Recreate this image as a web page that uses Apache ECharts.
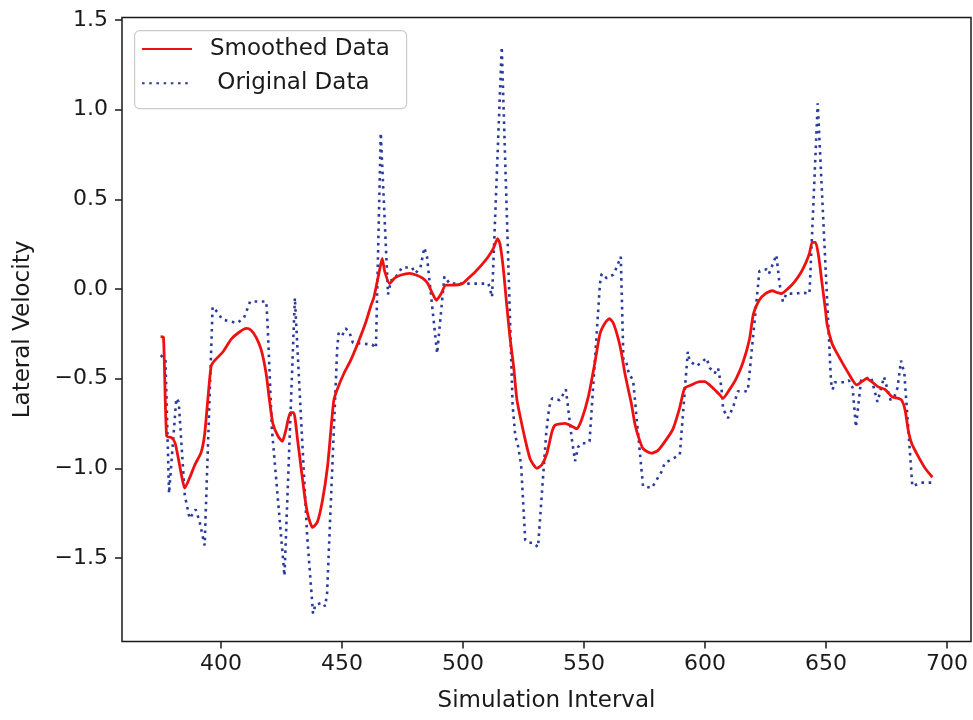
<!DOCTYPE html>
<html>
<head>
<meta charset="utf-8">
<script src="https://cdn.jsdelivr.net/npm/echarts@6/dist/echarts.min.js"></script>
<style>
html,body{margin:0;padding:0;background:#fff;}
#chart{width:973px;height:720px;}
</style>
</head>
<body>
<div id="chart"></div>
<script>
// ---- data ----
var origX = [375,377,378.5,379.3,381.5,382.5,385,387,389.5,391,393.2,396.5,398.5,400.5,403.3,406.7,409.5,412,418.7,419.3,421,426.2,430.5,433,435.6,438,439,442,443,443.8,448,448.6,450,451.5,453,454.5,462.5,464,466,469,470.3,471.4,474.8,478.9,480.3,482.4,484,485.1,489.3,492.3,493,494.5,510.5,512,516,520.5,521.6,522.8,524,525.7,527,529,531,534.4,535.6,536.8,540,542.5,543.4,545,546.3,547.6,549,551,552.3,556.6,557.3,559.4,562.1,563.5,565.2,566.3,567.5,568.5,570.3,574.4,578,580,582,583.4,586.2,589.6,592.9,593.6,596.5,598.6,600.6,602,604,605.4,606.8,607.5,609.5,611.6,613.6,617.7,622.5,623.8,625.5,626.4,627.5,629.5,630.8,632.2,633.7,637.8,640,643.2,646.6,652.1,652.8,653.5,658.3,659.5,661,662.4,664.5,668.6,671.3,674,676.7,678.3,679.6,681,682.4,685.7,689.2,694];
var origY = [-0.37,-0.39,-1.14,-1.14,-0.61,-0.63,-1.15,-1.28,-1.23,-1.29,-1.43,-0.10,-0.13,-0.17,-0.18,-0.19,-0.16,-0.07,-0.07,-0.22,-0.78,-1.60,-0.05,-0.71,-1.38,-1.81,-1.76,-1.75,-1.77,-1.70,-0.33,-0.245,-0.26,-0.22,-0.24,-0.30,-0.31,-0.33,0.87,-0.03,0.05,0.05,0.12,0.12,0.087,0.12,0.23,0.18,-0.36,0.07,0.08,0.03,0.03,-0.045,1.35,-0.65,-0.82,-0.88,-0.98,-1.40,-1.415,-1.415,-1.44,-0.80,-0.66,-0.61,-0.62,-0.56,-0.66,-0.84,-0.96,-0.88,-0.86,-0.86,-0.85,0.03,0.085,0.06,0.08,0.12,0.18,-0.40,-0.41,-0.47,-0.51,-1.10,-1.11,-1.065,-1.02,-0.97,-0.95,-0.925,-0.35,-0.40,-0.43,-0.41,-0.385,-0.44,-0.47,-0.44,-0.55,-0.67,-0.72,-0.66,-0.57,-0.57,0.10,0.105,0.11,0.085,0.12,0.19,0.03,-0.07,-0.026,-0.026,-0.02,-0.026,1.035,-0.52,-0.56,-0.52,-0.52,-0.51,-0.55,-0.77,-0.51,-0.49,-0.63,-0.49,-0.62,-0.60,-0.55,-0.40,-0.47,-1.10,-1.08,-1.08];

var smoothX = [375,376.2,377.5,379.6,381,382.4,383.8,385,387.1,389.2,391.8,393.2,394.5,395.9,397.3,400.8,404.2,407.6,410.4,412.4,414.5,416.6,418.6,420,421.4,423.5,425.3,426.9,428.6,430,431.6,433,434.4,435.7,437.8,439.8,441.9,444,445.3,446.6,448,450.8,453.5,456.9,459.7,462,463.2,465.5,466.6,467.6,469.6,471.7,474.4,477.9,480.6,483.3,485.4,487.4,489,490.8,492.9,495.6,499.7,502.2,505,507.7,510.4,512.5,514.3,515.3,516.6,518,519.4,520.9,521.6,522.3,523.6,525.7,527.8,530.5,532.6,534.6,536.7,538,542.2,545.6,547,549,551.8,554.5,556.6,558.7,560.5,562.1,564.2,565.5,566.9,568.3,569.6,571,572.4,574.4,577.9,580.6,584,586.8,589.6,591.6,594.4,597.8,599.9,603.3,606.1,607.4,610.2,612.9,615.7,618.4,620,622.4,625,627.8,629.9,631.6,634.3,637,639.8,641.8,643.2,644.3,645.7,647,648.4,649.8,650.5,652.4,653.8,656.5,659.3,662.7,664.8,666.8,668.9,671.6,674.4,677.2,679.9,681.3,682.7,684,685.4,688.2,691,694];
var smoothY = [-0.266,-0.27,-0.82,-0.83,-0.86,-0.95,-1.05,-1.11,-1.05,-0.98,-0.91,-0.81,-0.62,-0.43,-0.40,-0.35,-0.28,-0.24,-0.22,-0.23,-0.27,-0.34,-0.47,-0.62,-0.75,-0.82,-0.85,-0.78,-0.69,-0.69,-0.84,-0.99,-1.14,-1.25,-1.33,-1.30,-1.18,-0.99,-0.80,-0.62,-0.56,-0.47,-0.40,-0.29,-0.19,-0.09,-0.045,0.105,0.17,0.10,0.03,0.06,0.078,0.087,0.078,0.06,0.03,-0.026,-0.063,-0.03,0.022,0.022,0.03,0.06,0.095,0.134,0.18,0.225,0.28,0.25,0.12,-0.08,-0.27,-0.43,-0.53,-0.62,-0.71,-0.84,-0.95,-1.0,-0.98,-0.92,-0.80,-0.76,-0.75,-0.77,-0.78,-0.73,-0.60,-0.41,-0.25,-0.19,-0.165,-0.19,-0.28,-0.36,-0.47,-0.56,-0.64,-0.75,-0.82,-0.89,-0.916,-0.90,-0.84,-0.78,-0.66,-0.553,-0.535,-0.517,-0.517,-0.553,-0.59,-0.61,-0.56,-0.50,-0.41,-0.28,-0.14,-0.063,-0.026,-0.01,-0.02,-0.026,0.002,0.04,0.095,0.15,0.2,0.26,0.26,0.18,0.03,-0.117,-0.2,-0.3,-0.34,-0.405,-0.47,-0.535,-0.517,-0.5,-0.517,-0.546,-0.56,-0.60,-0.61,-0.62,-0.674,-0.786,-0.86,-0.935,-1.0,-1.05];

var xTicks = [400,450,500,550,600,650,700];
var yTicks = [-1.5,-1.0,-0.5,0.0,0.5,1.0,1.5];
var seriesNames = ['Smoothed Data', ' Original Data'];

function pairs(xs, ys){ var out=[]; for(var i=0;i<xs.length;i++){ out.push([xs[i], ys[i]]); } return out; }

var FONT = 'DejaVu Sans';
var TXT = '#1a1a1a';
var TICKFS = 22;
var LABFS = 23;
var chart = echarts.init(document.getElementById('chart'), null, {renderer:'canvas'});
chart.setOption({
  animation: false,
  backgroundColor: '#ffffff',
  grid: {left:122, right:2, top:17.5, bottom:78.5, show:true, borderColor:'#1a1a1a', borderWidth:1.5, backgroundColor:'transparent', containLabel:false},
  xAxis: {
    type:'value', min:359.05, max:709.95,
    axisLine:{show:false, onZero:false},
    axisTick:{show:true, length:7, inside:false, customValues:xTicks, lineStyle:{color:TXT, width:1.5}},
    axisLabel:{customValues:xTicks, margin:12, fontSize:TICKFS, fontFamily:FONT, color:TXT},
    splitLine:{show:false},
    name:'Simulation Interval', nameLocation:'middle', nameGap:48,
    nameTextStyle:{fontSize:LABFS, fontFamily:FONT, color:TXT}
  },
  yAxis: {
    type:'value', min:-1.966, max:1.514,
    axisLine:{show:false, onZero:false},
    axisTick:{show:true, length:7, inside:false, customValues:yTicks, lineStyle:{color:TXT, width:1.5}},
    axisLabel:{customValues:yTicks, margin:14, fontSize:TICKFS, fontFamily:FONT, color:TXT,
      formatter:function(v){ var s=(Math.abs(v)<1e-9?0:v).toFixed(1); return s.replace('-', '\u2212'); }},
    splitLine:{show:false},
    name:'Lateral Velocity', nameLocation:'middle', nameGap:87,
    nameTextStyle:{fontSize:LABFS, fontFamily:FONT, color:TXT}
  },
  graphic: [{
    type:'rect', left:134, top:30, z:3,
    shape:{width:272, height:78, r:5},
    style:{fill:'rgba(255,255,255,0.85)', stroke:'#cccccc', lineWidth:1.2}
  }],
  legend: {
    orient:'vertical', left:141, top:36, z:5,
    itemWidth:50, itemHeight:14, itemGap:8.3,
    padding:0,
    itemStyle:{opacity:0},
    textStyle:{fontSize:LABFS, fontFamily:FONT, color:TXT, lineHeight:26, padding:[0,0,0,13]},
    data:[{name:seriesNames[0]},{name:seriesNames[1]}]
  },
  series: [
    {name:seriesNames[0], type:'line', data:pairs(smoothX, smoothY), symbol:'none', showSymbol:false, z:3,
     smooth:0.2,
     lineStyle:{color:'#ee1111', width:2.8, join:'round'}, itemStyle:{color:'#ee1111'}},
    {name:seriesNames[1], type:'line', data:pairs(origX, origY), symbol:'none', showSymbol:false, z:2,
     lineStyle:{color:'#2b3a9e', width:2.6, type:[2.6,4.6], cap:'butt'}, itemStyle:{color:'#2b3a9e'}}
  ]
});
</script>
</body>
</html>
